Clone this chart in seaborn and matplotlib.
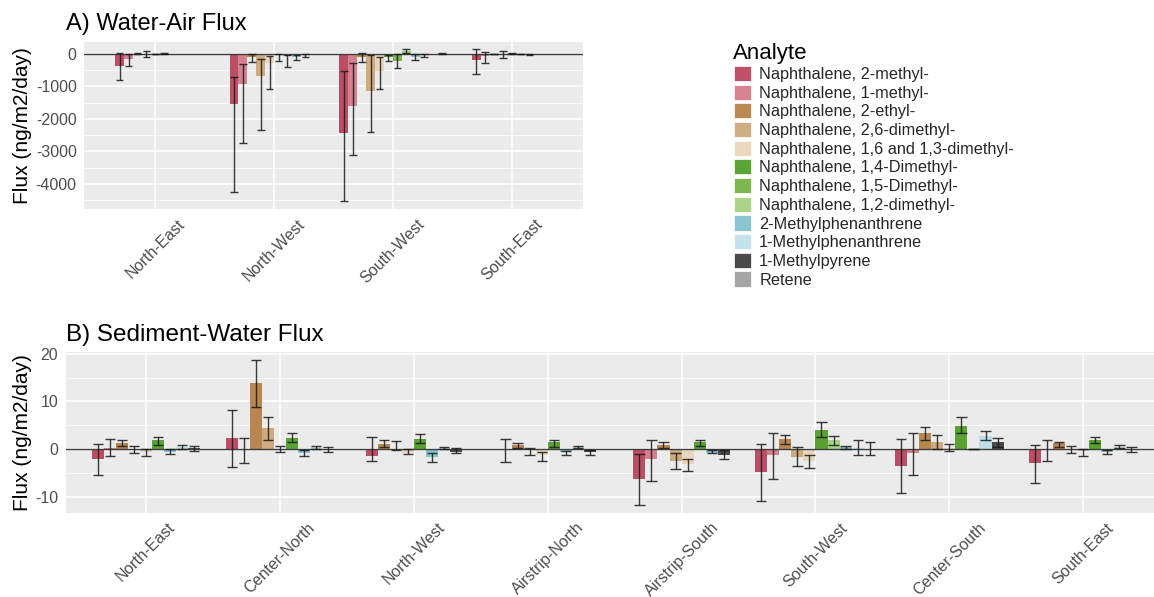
import numpy as np
import pandas as pd
import matplotlib
matplotlib.use("Agg")
import matplotlib.pyplot as plt
from matplotlib.patches import Patch
from matplotlib.ticker import MultipleLocator
import seaborn as sns

# ---------------------------------------------------------------- data
ANALYTES = [
    "Naphthalene, 2-methyl-",
    "Naphthalene, 1-methyl-",
    "Naphthalene, 2-ethyl-",
    "Naphthalene, 2,6-dimethyl-",
    "Naphthalene, 1,6 and 1,3-dimethyl-",
    "Naphthalene, 1,4-Dimethyl-",
    "Naphthalene, 1,5-Dimethyl-",
    "Naphthalene, 1,2-dimethyl-",
    "2-Methylphenanthrene",
    "1-Methylphenanthrene",
    "1-Methylpyrene",
    "Retene",
]
COLORS = [
    "#B3334D", "#D06E7E", "#AD7635", "#C8A06C", "#E8D2B6", "#3F9410",
    "#68AA30", "#9FCC74", "#74BACB", "#B8DEE8", "#2B2B2B", "#969696",
]

N = None  # analyte not reported at that site

# A) water-air flux, ng/m2/day (columns follow ANALYTES)
WA_SITES = ["North-East", "North-West", "South-West", "South-East"]
WA_FLUX = [
    [-360, -160, 0, 5, 0, 0, N, N, 0, 0, 0, N],
    [-1540, -933, -82, -677, -287, -40, -60, N, -80, -40, 0, N],
    [-2440, -1610, -90, -1128, -513, -100, -205, 100, -80, -40, 0, 10],
    [-190, -60, 0, -20, 20, 0, N, N, -10, 0, 0, N],
]
WA_LOW = [
    [-800, -370, -15, -85, -15, -15, N, N, N, N, N, N],
    [-4255, -2750, -257, -2348, -1077, -205, -390, N, -185, -100, N, N],
    [-4540, -3108, -257, -2390, -1077, -205, -420, 20, -185, -100, N, 0],
    [-615, -287, -15, -123, 5, -15, N, N, -25, N, N, N],
]
WA_HIGH = [
    [20, 0, 20, 90, 15, 20, N, N, N, N, N, N],
    [-708, -318, 5, -164, -62, 5, -30, N, -30, 0, N, N],
    [-523, -287, 25, -30, -82, -30, 0, 144, -10, 0, N, 20],
    [144, 70, 15, 82, 35, 15, N, N, 5, N, N, N],
]

# B) sediment-water flux, ng/m2/day
SW_SITES = ["North-East", "Center-North", "North-West", "Airstrip-North",
            "Airstrip-South", "South-West", "Center-South", "South-East"]
SW_FLUX = [
    [-2.1, 0.3, 1.3, -0.1, -0.6, 1.8, N, N, -0.6, 0.45, 0.2, N],
    [2.3, -0.2, 13.9, 4.5, 0.0, 2.3, N, N, -0.9, 0.35, -0.2, N],
    [-1.4, N, 1.0, 0.1, -0.9, 2.1, N, N, -1.75, 0.3, -0.7, N],
    [-0.3, N, 0.84, -0.3, -1.26, 1.5, N, N, -0.56, 0.63, -0.56, N],
    [-6.4, -2.2, 0.77, -2.5, -3.2, 1.5, N, N, -0.77, N, -1.26, N],
    [-4.8, -1.26, 2.1, -1.6, -2.5, 4.1, N, 1.9, 0.35, 0.2, 0.1, N],
    [-3.6, -0.9, 3.3, 1.5, 0.3, 4.9, N, N, 0.05, 2.7, 1.4, N],
    [-3.0, -0.2, 1.2, -0.1, -0.4, 1.9, N, N, -0.7, 0.5, -0.1, N],
]
SW_LOW = [
    [-5.4, -1.4, 0.6, -0.9, -1.4, 0.8, N, N, -1.05, 0.1, -0.35, N],
    [-3.8, -3.0, 8.9, 2.0, -0.7, 1.5, N, N, -1.5, 0.06, -0.7, N],
    [-2.5, N, 0.5, -0.2, -1.0, 1.3, N, N, -2.7, 0.06, -0.9, N],
    [-2.7, N, 0.15, -1.26, -2.5, 0.5, N, N, -1.26, 0.15, -1.26, N],
    [-11.85, -6.7, 0.15, -4.1, -4.6, 0.6, N, N, -0.9, N, -2.1, N],
    [-10.9, -6.2, 1.0, -3.6, -3.9, 2.6, N, 0.77, 0.1, -1.3, -1.2, N],
    [-9.3, -5.5, 1.9, 0.0, -0.4, 3.3, N, N, 0.0, 1.9, 0.35, N],
    [-7.1, -2.5, 0.35, -0.9, -1.5, 1.2, N, N, -1.1, 0.15, -0.7, N],
]
SW_HIGH = [
    [1.0, 2.2, 1.9, 0.7, 0.0, 2.5, N, N, 0.0, 0.8, 0.7, N],
    [8.3, 2.25, 18.8, 6.7, 0.63, 3.3, N, N, -0.2, 0.6, 0.35, N],
    [2.6, N, 1.9, 1.7, 0.0, 3.1, N, N, -0.9, 0.5, 0.3, N],
    [2.1, N, 1.2, 0.15, -0.56, 2.0, N, N, -0.4, 0.7, -0.2, N],
    [-1.05, 2.0, 1.5, -0.9, -2.1, 2.0, N, N, -0.2, N, -0.2, N],
    [1.05, 3.3, 2.9, 0.35, -1.26, 5.6, N, 2.7, 0.6, 1.9, 1.5, N],
    [2.1, 3.4, 4.6, 2.9, 1.05, 6.7, N, N, 0.1, 3.8, 2.25, N],
    [0.84, 2.0, 1.5, 0.7, 0.0, 2.5, N, N, -0.2, 0.84, 0.35, N],
]

# ---------------------------------------------------------------- helpers
def long_table(sites, flux, low, high):
    """Long-form table; bars of one site share the dodge width and are centred."""
    rows = []
    for i, site in enumerate(sites):
        present = [k for k, v in enumerate(flux[i]) if v is not None]
        for j, k in enumerate(present):
            rows.append(dict(site=site, site_idx=i, slot=j, n=len(present),
                             analyte=ANALYTES[k], flux=flux[i][k],
                             low=low[i][k], high=high[i][k]))
    df = pd.DataFrame(rows)
    slot_w = 0.9 / df["n"].max()
    df["x"] = df["site_idx"] + (df["slot"] - (df["n"] - 1) / 2) * slot_w
    return df, slot_w


def draw_panel(ax, sites, flux, low, high, major, minor):
    df, slot_w = long_table(sites, flux, low, high)
    sns.barplot(data=df, x="x", y="flux", hue="analyte", hue_order=ANALYTES,
                palette=dict(zip(ANALYTES, COLORS)), native_scale=True,
                dodge=False, width=1.0, errorbar=None, saturation=1,
                alpha=0.85, linewidth=0, legend=False, ax=ax, zorder=2)
    ax.axhline(0, color="#3c3c3c", lw=1.0, zorder=3)
    eb = df.dropna(subset=["low", "high"])
    cap = 0.85 * slot_w
    ax.vlines(eb["x"], eb["low"], eb["high"], color="#1a1a1a", lw=1.0,
              alpha=0.85, zorder=4)
    for col in ("low", "high"):
        ax.hlines(eb[col], eb["x"] - cap / 2, eb["x"] + cap / 2,
                  color="#1a1a1a", lw=1.0, alpha=0.85, zorder=4)

    lo, hi = eb["low"].min(), eb["high"].max()
    pad = 0.05 * (hi - lo)
    ax.set_ylim(lo - pad, hi + pad)
    ax.set_xlim(-0.6, len(sites) - 0.4)
    ax.set_xticks(range(len(sites)))
    ax.set_xticklabels(sites, rotation=45, ha="center")
    ax.yaxis.set_major_locator(MultipleLocator(major))
    ax.yaxis.set_minor_locator(MultipleLocator(minor))
    ax.set_xlabel("")
    ax.set_ylabel("")
    ax.set_facecolor("#EBEBEB")
    ax.set_axisbelow(True)
    ax.grid(which="major", color="white", lw=1.1)
    ax.grid(which="minor", axis="y", color="white", lw=0.55)
    ax.grid(which="minor", axis="x", visible=False)
    for s in ax.spines.values():
        s.set_visible(False)
    ax.tick_params(which="major", length=2.75, width=0.7, color="#333333",
                   labelsize=11.5, labelcolor="#4D4D4D", pad=2.5)
    ax.tick_params(which="minor", length=0)


# ---------------------------------------------------------------- figure
sns.set_theme(style="darkgrid")
plt.rcParams["font.family"] = ["Liberation Sans", "DejaVu Sans"]
plt.rcParams["axes.unicode_minus"] = False

fig = plt.figure(figsize=(11.54, 5.97), dpi=100)
fig.patch.set_facecolor("white")

ax_a = fig.add_axes([0.0728, 0.6499, 0.4324, 0.2802])
ax_b = fig.add_axes([0.0569, 0.1412, 0.9514, 0.2687])

draw_panel(ax_a, WA_SITES, WA_FLUX, WA_LOW, WA_HIGH, 1000, 500)
draw_panel(ax_b, SW_SITES, SW_FLUX, SW_LOW, SW_HIGH, 10, 5)

fig.text(0.0572, 1 - 30 / 597, "A) Water-Air Flux", fontsize=17,
         va="baseline", ha="left", color="black")
fig.text(0.0572, 1 - 341 / 597, "B) Sediment-Water Flux", fontsize=17.5,
         va="baseline", ha="left", color="black")
for ax in (ax_a, ax_b):
    pos = ax.get_position()
    fig.text(0.0195, pos.y0 + pos.height / 2, "Flux (ng/m2/day)", rotation=90,
             fontsize=15, ha="center", va="center", color="black")

# legend: title and keys placed separately so the gap between them is free
fig.text(733 / 1154, 1 - 59 / 597, "Analyte", fontsize=16, ha="left",
         va="baseline", color="black")
handles = [Patch(facecolor=c, alpha=0.85, edgecolor="white", linewidth=0.6)
           for c in COLORS]
fig.legend(handles, ANALYTES, loc="upper left",
           bbox_to_anchor=(734 / 1154, 1 - 66 / 597), frameon=False,
           fontsize=11.7, handlelength=1.05, handleheight=1.05,
           labelspacing=0.16, handletextpad=0.5,
           borderpad=0, borderaxespad=0)

fig.savefig("out.png", dpi=100, facecolor="white")
